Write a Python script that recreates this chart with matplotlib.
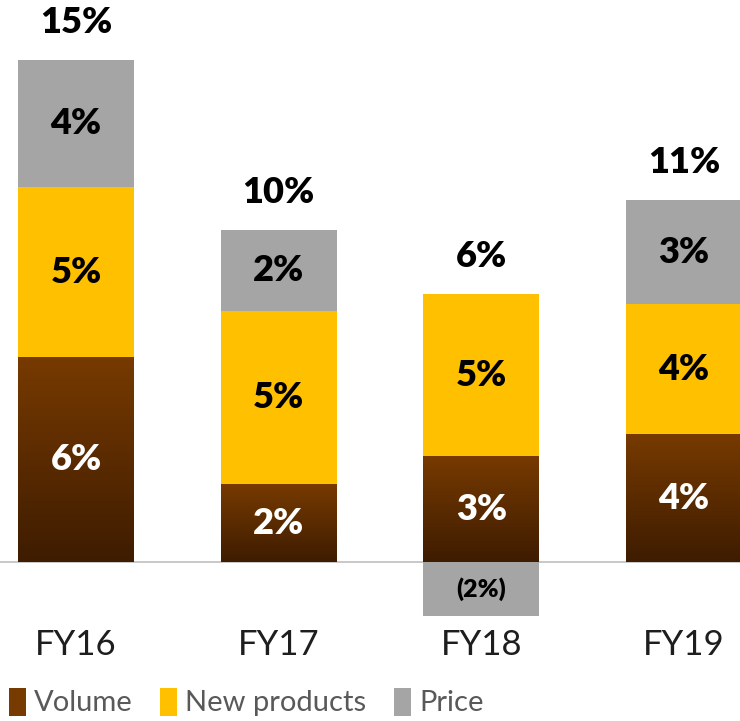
import numpy as np
import matplotlib
matplotlib.use('Agg')
import matplotlib.pyplot as plt
from matplotlib.patches import Patch
from matplotlib.colors import LinearSegmentedColormap

years = ['FY16', 'FY17', 'FY18', 'FY19']
volume = [6.1, 2.3, 3.15, 3.8]
new_products = [5.1, 5.2, 4.85, 3.9]
price = [3.8, 2.4, -1.6, 3.1]

brown_top = '#773a00'
brown_bottom = '#3e1c00'
yellow = '#ffc000'
grey = '#a5a5a5'

plt.rcParams['font.family'] = ['Lato', 'DejaVu Sans']

fig = plt.figure(figsize=(7.4, 7.21), dpi=100)
ax = fig.add_axes([0.0, 0.1373, 1.0, 0.835])

x = np.arange(len(years))
width = 0.572
vol = np.array(volume)
new = np.array(new_products)
prc = np.array(price)

bars_vol = ax.bar(x, vol, width, color=brown_bottom, zorder=2)
bars_new = ax.bar(x, new, width, bottom=vol, color=yellow, zorder=2)
price_bottom = np.where(prc > 0, vol + new, 0)
bars_prc = ax.bar(x, prc, width, bottom=price_bottom, color=grey, zorder=2)

# vertical brown gradient inside each volume bar
brown_cmap = LinearSegmentedColormap.from_list('brown', [brown_bottom, brown_top])
grad = np.linspace(0, 1, 256).reshape(-1, 1)
for b in bars_vol:
    x0, y0 = b.get_x(), b.get_y()
    ax.imshow(grad, cmap=brown_cmap, aspect='auto', origin='lower',
              extent=(x0, x0 + b.get_width(), y0, y0 + b.get_height()), zorder=3)


def pct(v):
    s = f'{abs(round(v)):.0f}%'
    return f'({s})' if v < 0 else s


fs = 26
for i in range(len(years)):
    ax.text(x[i], vol[i] / 2, pct(vol[i]), ha='center', va='center',
            color='white', fontsize=fs, fontweight='heavy', zorder=4)
    ax.text(x[i], vol[i] + new[i] / 2, pct(new[i]), ha='center', va='center',
            color='black', fontsize=fs, fontweight='heavy', zorder=4)
    ax.text(x[i], price_bottom[i] + prc[i] / 2, pct(prc[i]), ha='center', va='center',
            color='black', fontsize=fs if prc[i] > 0 else 18, fontweight='heavy', zorder=4)
    total = vol[i] + new[i] + prc[i]
    top = vol[i] + new[i] + max(prc[i], 0)
    ax.annotate(pct(total), (x[i], top), xytext=(0, 27), textcoords='offset points',
                ha='center', va='center', fontsize=fs, fontweight='heavy')

ax.axhline(0, color='#bfbfbf', linewidth=1.2, zorder=1)
ax.set_xlim(-0.375, 3.276)
ax.set_ylim(-1.79, 16.18)
ax.set_xticks(x)
ax.set_xticklabels(years, fontsize=25, color='#1e1e1e')
ax.tick_params(axis='x', length=0, pad=5)
ax.set_yticks([])
for s in ax.spines.values():
    s.set_visible(False)

handles = [Patch(facecolor=brown_top, edgecolor='none'),
           Patch(facecolor=yellow, edgecolor='none'),
           Patch(facecolor=grey, edgecolor='none')]
fig.legend(handles, ['Volume', 'New products', 'Price'], loc='lower left',
           bbox_to_anchor=(-0.012, -0.018), ncol=3, frameon=False, fontsize=21,
           labelcolor='#595959', handlelength=0.58, handleheight=1.1,
           handletextpad=0.28, columnspacing=0.95, borderaxespad=0.2)

fig.savefig('out.png', dpi=100)
